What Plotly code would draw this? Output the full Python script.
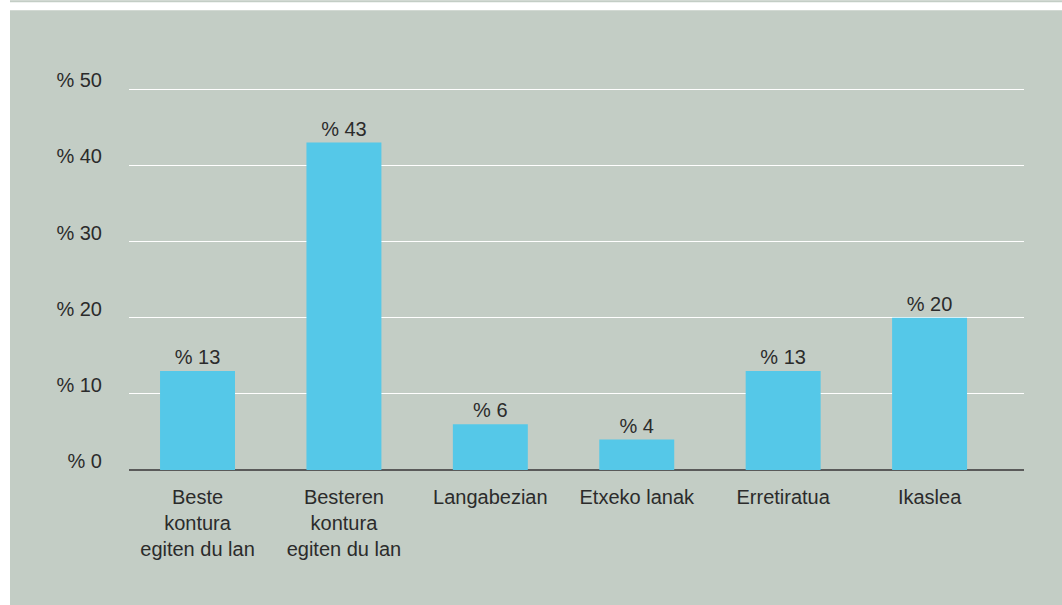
import plotly.graph_objects as go

categories = ["Beste<br>kontura<br>egiten du lan", "Besteren<br>kontura<br>egiten du lan",
              "Langabezian", "Etxeko lanak", "Erretiratua", "Ikaslea"]
values = [13, 43, 6, 4, 13, 20]
y_ticks = [0, 10, 20, 30, 40, 50]
y_ticktext = ["% " + str(v) for v in y_ticks]

W, H = 1062, 605
Y_TOP = 50.3
L, R, B = 129, 38, 135
T = 89 - (Y_TOP - 50) * (470 - 89) / 50
pw, ph = W - L - R, H - T - B

def px_x(p):
    return (p - L) / pw

def px_y(p):
    return (H - B - p) / ph

PANEL = "#c3cdc5"
BAR = "#55c8e8"
TXT = "#2b2b2b"

xs = list(range(len(categories)))

fig = go.Figure(go.Bar(
    x=xs, y=values, width=0.512, marker_color=BAR, marker_line_width=0,
    text=["% " + str(v) for v in values], textposition="outside",
    textfont=dict(size=20, color=TXT), cliponaxis=False,
))

fig.update_layout(
    width=W, height=H,
    margin=dict(l=L, r=R, t=T, b=B, pad=0),
    paper_bgcolor="white", plot_bgcolor=PANEL,
    font=dict(family="Liberation Sans, Arial, sans-serif", size=20, color=TXT),
    showlegend=False,
    shapes=[
        dict(type="rect", xref="paper", yref="paper", x0=px_x(10), x1=px_x(W), y0=px_y(H), y1=px_y(10),
             fillcolor=PANEL, line_width=0, layer="below"),
        dict(type="rect", xref="paper", yref="paper", x0=px_x(10), x1=px_x(W), y0=px_y(2), y1=px_y(0),
             fillcolor=PANEL, line_width=0, layer="below"),
    ],
)
fig.update_xaxes(
    range=[-0.468, 5.645], tickvals=xs, ticktext=categories, showgrid=False,
    zeroline=False, showline=False, ticks="", ticklabelstandoff=13,
    tickfont=dict(size=20, color=TXT),
)
fig.update_yaxes(
    range=[0, Y_TOP], tickvals=y_ticks, ticktext=y_ticktext, showgrid=True, gridcolor="white",
    gridwidth=1, zeroline=True, zerolinecolor="#5a5a5a", zerolinewidth=1.5,
    ticks="", ticklabelstandoff=26, ticklabelshift=-9, tickfont=dict(size=20, color=TXT),
)

fig.write_html("out.html", config={"displayModeBar": False},
               post_script="document.body.style.margin='0';")
